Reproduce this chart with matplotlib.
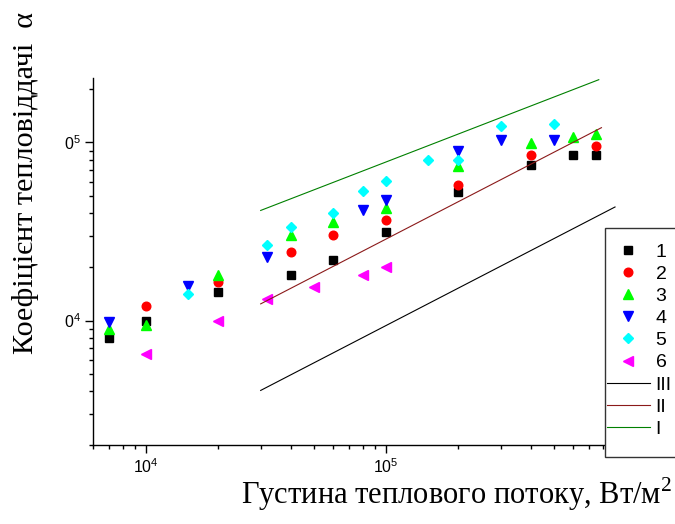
import matplotlib.pyplot as plt
from matplotlib.patches import Rectangle
from matplotlib.ticker import FixedLocator, FixedFormatter, LogLocator, NullFormatter

# Heat flux q (W/m2) and heat transfer coefficient alpha for each series
q1 = [7e3, 1e4, 2e4, 4e4, 6e4, 1e5, 2e5, 4e5, 6e5, 7.5e5]
a1 = [8000, 10000, 14400, 17900, 21900, 31300, 52600, 75000, 85300, 85300]

q2 = [1e4, 2e4, 4e4, 6e4, 1e5, 2e5, 4e5, 7.5e5]
a2 = [12000, 16400, 24400, 30100, 36900, 57800, 85300, 95000]

q3 = [7e3, 1e4, 2e4, 4e4, 6e4, 1e5, 2e5, 4e5, 6e5, 7.5e5]
a3 = [8980, 9380, 18100, 30300, 35900, 42800, 73300, 99100, 107000, 112000]

q4 = [7e3, 1.5e4, 3.2e4, 8e4, 1e5, 2e5, 3e5, 5e5]
a4 = [9780, 15700, 22700, 41500, 47200, 89400, 103500, 103500]

q5 = [1.5e4, 3.2e4, 4e4, 6e4, 8e4, 1e5, 1.5e5, 2e5, 3e5, 5e5]
a5 = [14000, 26600, 33700, 40100, 53700, 60400, 80000, 80000, 123000, 127400]

q6 = [1e4, 2e4, 3.2e4, 5e4, 8e4, 1e5]
a6 = [6450, 10000, 13200, 15500, 18100, 19900]

# Reference lines I, II, III (end points)
qI = [3e4, 7.7e5]
aI = [41500, 225000]
qII = [3e4, 7.9e5]
aII = [12400, 121000]
qIII = [3e4, 9e5]
aIII = [4050, 43400]

fig = plt.figure(figsize=(6.75, 5.24), dpi=100)
ax = fig.add_axes([93 / 675, 79 / 524, 533 / 675, 367 / 524])

ax.set_xscale("log")
ax.set_yscale("log")
ax.set_xlim(6000, 1e6)
ax.set_ylim(2000, 2.3e5)

# Scatter series
ax.plot(q1, a1, "s", color="black", ms=5.4, ls="none", label="1")
ax.plot(q2, a2, "o", color="red", ms=6.2, ls="none", label="2")
ax.plot(q3, a3, "^", color="#00ff00", ms=7.6, ls="none", label="3")
ax.plot(q4, a4, "v", color="blue", ms=7.6, ls="none", label="4")
ax.plot(q5, a5, "D", color="cyan", ms=5.6, ls="none", label="5")
ax.plot(q6, a6, "<", color="magenta", ms=7.6, ls="none", label="6")

# Lines
ax.plot(qIII, aIII, color="black", lw=0.8, label="III")
ax.plot(qII, aII, color="#8b1a1a", lw=0.8, label="II")
ax.plot(qI, aI, color="#008000", lw=0.8, label="I")

# Spines and ticks
for s in ["top", "right"]:
    ax.spines[s].set_visible(False)
for s in ["left", "bottom"]:
    ax.spines[s].set_linewidth(1.0)

ax.xaxis.set_major_locator(FixedLocator([1e4, 1e5]))
ax.xaxis.set_major_formatter(FixedFormatter([r"$\mathdefault{10^{4}}$", r"$\mathdefault{10^{5}}$"]))
ax.yaxis.set_major_locator(FixedLocator([1e4, 1e5]))
ax.yaxis.set_major_formatter(FixedFormatter([r"$\mathdefault{0^{4}}$", r"$\mathdefault{0^{5}}$"]))
ax.xaxis.set_minor_locator(LogLocator(base=10, subs=range(2, 10)))
ax.yaxis.set_minor_locator(LogLocator(base=10, subs=range(2, 10)))
ax.xaxis.set_minor_formatter(NullFormatter())
ax.yaxis.set_minor_formatter(NullFormatter())
ax.tick_params(which="major", direction="out", length=5.5, width=1.0, pad=3.5)
ax.tick_params(which="minor", direction="out", length=3, width=1.0)
for lbl in ax.get_xticklabels() + ax.get_yticklabels():
    lbl.set_fontfamily("Liberation Sans")
    lbl.set_fontsize(11.5)

# Legend box (runs past the right edge of the picture)
box = Rectangle((605 / 675, 1 - 457 / 524), 0.2, 229 / 524, transform=fig.transFigure,
                facecolor="white", edgecolor="#333333", lw=1.0, clip_on=False, zorder=4)
ax.add_artist(box)

leg = ax.legend(
    loc="upper left",
    bbox_to_anchor=(607 / 675, 1 - 243 / 524),
    bbox_transform=fig.transFigure,
    prop={"family": "Liberation Sans", "size": 14},
    frameon=False,
    borderpad=0,
    borderaxespad=0,
    handlelength=2.2,
    handletextpad=0.3,
    labelspacing=0.234,
    numpoints=1,
)
leg.set_zorder(5)

# Axis labels
fig.text(26 / 675, 1 - 12 / 524, "Коефіцієнт тепловіддачі  α", rotation=90,
         ha="center", va="top", family="Liberation Serif", fontsize=21.7)
fig.text(672 / 675, 1 - 504 / 524, r"Густина теплового потоку, Вт/м$^{\mathdefault{2}}$",
         ha="right", va="baseline", family="Liberation Serif", fontsize=22)

fig.savefig("out.png", dpi=100)
